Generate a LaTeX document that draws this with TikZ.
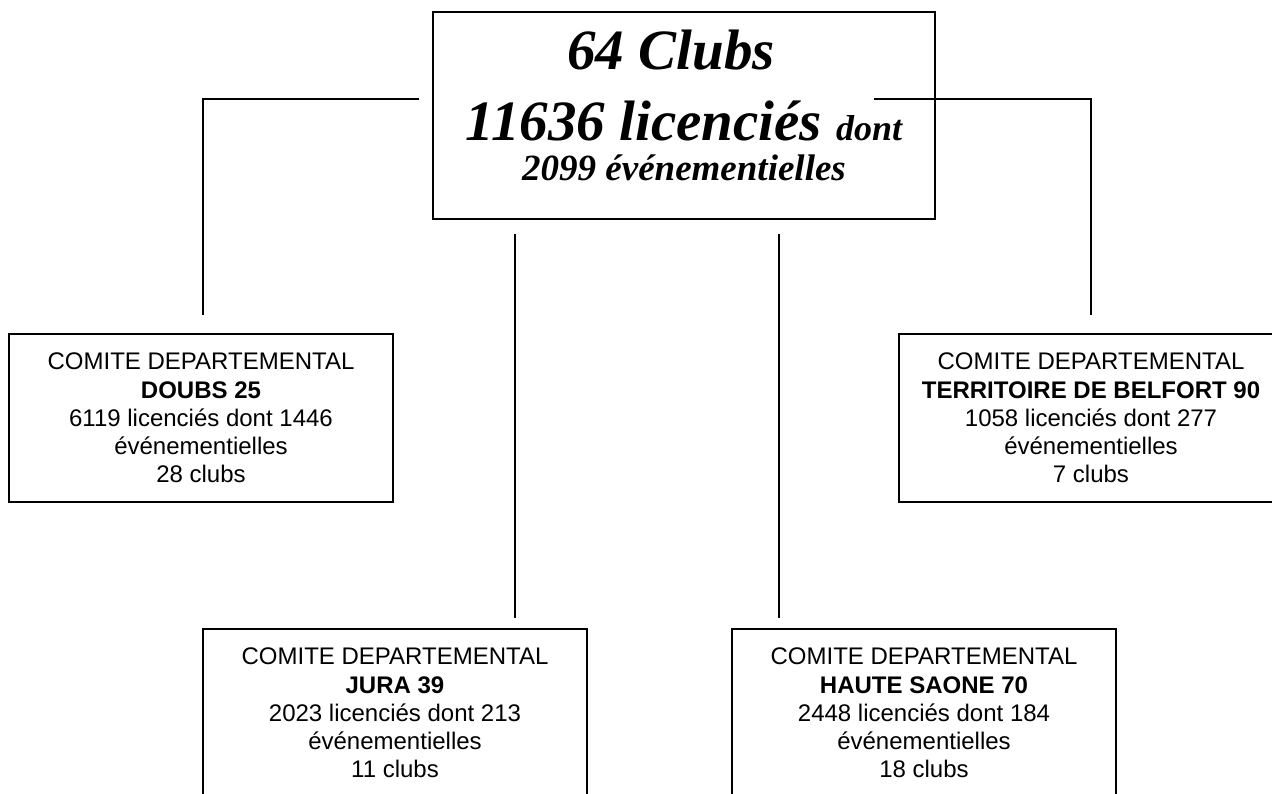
\documentclass[tikz,border=0pt]{standalone}
\usepackage{fontspec}
\setmainfont{Liberation Serif}
\setsansfont{Liberation Sans}
\begin{document}
\begin{tikzpicture}[x=1pt,y=1pt,
  topbox/.style={draw, line width=2pt, minimum width=502pt, minimum height=207pt, inner sep=0pt},
  toptext/.style={align=center, font=\bfseries\itshape\fontsize{57}{71}\selectfont, inner sep=0pt},
  dept/.style={draw, line width=1.4pt, minimum width=384pt, minimum height=168pt, align=center,
    font=\sffamily\fontsize{24}{28.25}\selectfont, inner sep=0pt},
  link/.style={line width=1.7pt}]
\clip (0,0) rectangle (1272,-793);
\fill[white] (0,0) rectangle (1272,-793);
% top box
\node[topbox] (top) at (684,-115.5) {};
\node[toptext, anchor=north] (toplbl) at (684,-30)
  {64 Clubs\hspace*{26pt}\\11636 licenciés {\fontsize{36}{40}\selectfont dont}\\[-31pt]
   {\fontsize{37}{40}\selectfont 2099 événementielles}};
% department boxes
\node[dept] (doubs) at (201,-418)
  {COMITE DEPARTEMENTAL\\{\bfseries DOUBS 25}\\6119 licenciés dont 1446\\événementielles\\28 clubs};
\node[dept] (belfort) at (1091,-418)
  {COMITE DEPARTEMENTAL\\{\bfseries TERRITOIRE DE BELFORT 90}\\1058 licenciés dont 277\\événementielles\\7 clubs};
\node[dept] (jura) at (395,-713)
  {COMITE DEPARTEMENTAL\\{\bfseries JURA 39}\\2023 licenciés dont 213\\événementielles\\11 clubs};
\node[dept] (haute) at (924,-713)
  {COMITE DEPARTEMENTAL\\{\bfseries HAUTE SAONE 70}\\2448 licenciés dont 184\\événementielles\\18 clubs};
% connectors
\coordinate (la) at (419,-99);
\coordinate (lb) at (203,-315);
\coordinate (ra) at (874,-99);
\coordinate (rb) at (1091,-315);
\coordinate (ma) at (515,-234);
\coordinate (mb) at (515,-618);
\coordinate (na) at (779,-234);
\coordinate (nb) at (779,-618);
\draw[link] (la) -| (lb);
\draw[link] (ra) -| (rb);
\draw[link] (ma) -- (mb);
\draw[link] (na) -- (nb);
\end{tikzpicture}
\end{document}
